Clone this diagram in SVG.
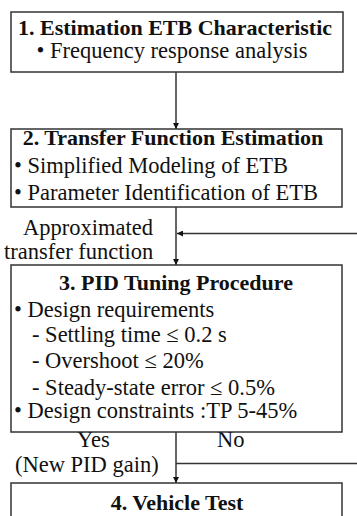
<svg xmlns="http://www.w3.org/2000/svg" width="357" height="516" viewBox="0 0 357 516">
<defs>
<style>
.box{fill:#fff;stroke:#333;stroke-width:1.5}
.t{font-family:"Liberation Serif","Times New Roman",serif;font-size:22.5px;fill:#111}
.b{font-weight:bold;font-size:22px;text-anchor:middle}
.c{text-anchor:middle}
.ln{stroke:#333;stroke-width:1.5;fill:none}
</style>
<marker id="ah" viewBox="0 0 10 10" refX="10" refY="5" markerWidth="6" markerHeight="6" markerUnits="userSpaceOnUse" orient="auto">
<path d="M0,0 L10,5 L0,10 Z" fill="#111"/>
</marker>
</defs>
<rect width="357" height="516" fill="#fff"/>
<g id="connectors">
<line class="ln" x1="176" y1="72" x2="176" y2="129" marker-end="url(#ah)"/>
<line class="ln" x1="176" y1="207" x2="176" y2="265" marker-end="url(#ah)"/>
<line class="ln" x1="357" y1="233.5" x2="177" y2="233.5" marker-end="url(#ah)"/>
<line class="ln" x1="176" y1="432" x2="176" y2="483" marker-end="url(#ah)"/>
<line class="ln" x1="176" y1="463.5" x2="357" y2="463.5"/>
<text class="t" x="23" y="235">Approximated</text>
<text class="t" x="4" y="259">transfer function</text>
<text class="t" x="77" y="447">Yes</text>
<text class="t" x="15" y="472">(New PID gain)</text>
<text class="t" x="217" y="447">No</text>
</g>
<g id="node1">
<rect class="box" x="11" y="12" width="332" height="60"/>
<text class="t b" x="175" y="35">1. Estimation ETB Characteristic</text>
<text class="t c" x="172" y="58">• Frequency response analysis</text>
</g>
<g id="node2">
<rect class="box" x="11" y="129" width="331" height="78"/>
<text class="t b" x="173" y="145">2. Transfer Function Estimation</text>
<text class="t" x="14" y="173">• Simplified Modeling of ETB</text>
<text class="t" x="14" y="200">• Parameter Identification of ETB</text>
</g>
<g id="node3">
<rect class="box" x="11" y="265" width="331" height="167"/>
<text class="t b" x="176" y="290">3. PID Tuning Procedure</text>
<text class="t" x="14" y="317">• Design requirements</text>
<text class="t" x="32" y="342">- Settling time ≤ 0.2 s</text>
<text class="t" x="32" y="368">- Overshoot ≤ 20%</text>
<text class="t" x="32" y="395">- Steady-state error ≤ 0.5%</text>
<text class="t" x="14" y="418">• Design constraints :TP 5-45%</text>
</g>
<g id="node4">
<rect class="box" x="11" y="483" width="331" height="50"/>
<text class="t b" x="177" y="510">4. Vehicle Test</text>
</g>
</svg>
